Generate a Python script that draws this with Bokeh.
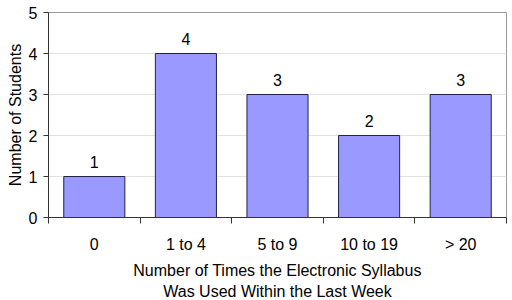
from bokeh.plotting import figure
from bokeh.models import FixedTicker, Range1d, ColumnDataSource
from bokeh.embed import file_html
from bokeh.resources import INLINE

categories = ["0", "1 to 4", "5 to 9", "10 to 19", "> 20"]
students = [1, 4, 3, 2, 3]
y_ticks = [0, 1, 2, 3, 4, 5]

FONT = "Liberation Sans"
FS = "16px"

xs = [i + 0.5 for i in range(len(categories))]
src = ColumnDataSource(dict(x=xs, top=students, label=[str(v) for v in students]))

p = figure(frame_width=458, frame_height=205, output_backend="svg", toolbar_location=None,
           x_range=Range1d(0, len(categories)), y_range=Range1d(0, 5),
           min_border_left=48, min_border_right=6, min_border_top=12, min_border_bottom=0)
p.background_fill_color = "white"
p.outline_line_color = "#9a9a9a"
p.outline_line_width = 1

p.vbar(x="x", top="top", width=0.667, source=src, fill_color="#9999FF",
       line_color="#22224a", line_width=1)
p.text(x="x", y="top", text="label", source=src, text_align="center",
       text_baseline="bottom", y_offset=-9, text_font_size=FS,
       text_font={"value": FONT}, text_color="black")

p.xgrid.visible = False
p.ygrid.ticker = FixedTicker(ticks=y_ticks)
p.ygrid.grid_line_color = "#e2e2e2"

xa = p.xaxis[0]
xa.ticker = FixedTicker(ticks=xs, minor_ticks=list(range(len(categories) + 1)))
xa.major_label_overrides = {x: c for x, c in zip(xs, categories)}
xa.major_tick_out = 0
xa.major_tick_in = 0
xa.minor_tick_out = 6
xa.minor_tick_in = 0
xa.minor_tick_line_color = "#333333"
xa.axis_line_color = "#333333"
xa.major_label_text_font = FONT
xa.major_label_text_font_size = FS
xa.major_label_text_color = "black"
xa.major_label_standoff = 12
xa.axis_label = "Number of Times the Electronic Syllabus\nWas Used Within the Last Week"
xa.axis_label_text_font = FONT
xa.axis_label_text_font_size = FS
xa.axis_label_text_font_style = "normal"
xa.axis_label_text_color = "black"
xa.axis_label_text_line_height = 1.25
xa.axis_label_standoff = 6

ya = p.yaxis[0]
ya.ticker = FixedTicker(ticks=y_ticks)
ya.minor_tick_line_color = None
ya.major_tick_out = 5
ya.major_tick_in = 0
ya.major_tick_line_color = "#333333"
ya.axis_line_color = "#333333"
ya.major_label_text_font = FONT
ya.major_label_text_font_size = FS
ya.major_label_text_color = "black"
ya.major_label_standoff = 6
ya.axis_label = "Number of Students"
ya.axis_label_text_font = FONT
ya.axis_label_text_font_size = FS
ya.axis_label_text_font_style = "normal"
ya.axis_label_text_color = "black"
ya.axis_label_standoff = 2

open("out.html", "w").write(file_html(p, INLINE))
